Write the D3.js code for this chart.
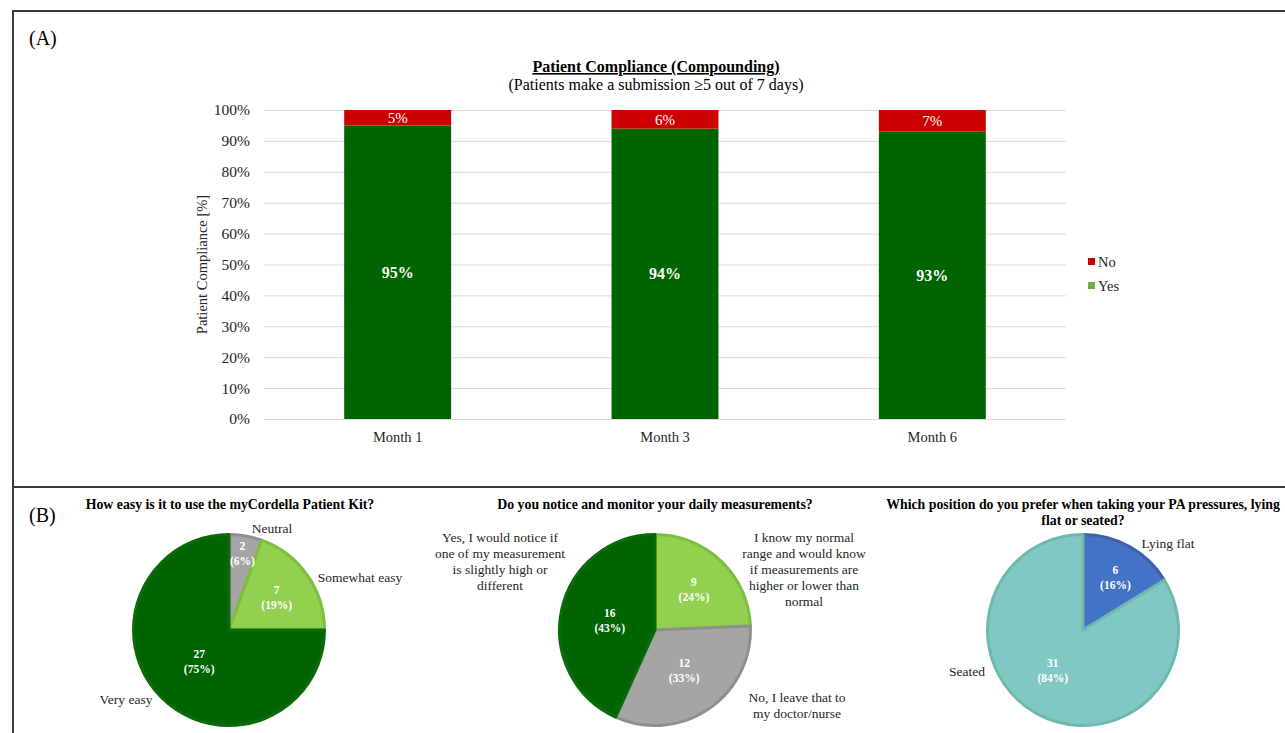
<!DOCTYPE html>
<html><head><meta charset="utf-8">
<script src="https://cdn.jsdelivr.net/npm/d3@7"></script>
<style>html,body{margin:0;padding:0;background:#fff;}svg{display:block;font-family:"Liberation Serif","Times New Roman",serif;}</style>
</head><body>
<svg id="c" width="1285" height="733"></svg>
<script>
// ---- Data ----
const months = ["Month 1", "Month 3", "Month 6"];
const yesValues = [95, 94, 93];
const noValues = [5, 6, 7];
const yTicks = [0, 10, 20, 30, 40, 50, 60, 70, 80, 90, 100];

const easeLabels = ["Neutral", "Somewhat easy", "Very easy"];
const easeValues = [2, 7, 27];
const easePct = ["6%", "19%", "75%"];

const monitorLabels = [["I know my normal", "range and would know", "if measurements are", "higher or lower than", "normal"],
  ["No, I leave that to", "my doctor/nurse"],
  ["Yes, I would notice if", "one of my measurement", "is slightly high or", "different"]];
const monitorValues = [9, 12, 16];
const monitorPct = ["24%", "33%", "43%"];

const positionLabels = ["Lying flat", "Seated"];
const positionValues = [6, 31];
const positionPct = ["16%", "84%"];

const svg = d3.select("#c");
const ink = "#262626";

// ---- Frame ----
svg.append("path").attr("d", "M13,733 L13,11 L1285,11").attr("fill", "none").attr("stroke", "#3a3a3a").attr("stroke-width", 2);
svg.append("line").attr("x1", 13).attr("x2", 1285).attr("y1", 487).attr("y2", 487).attr("stroke", "#3a3a3a").attr("stroke-width", 2);
svg.append("text").attr("x", 29).attr("y", 45).attr("font-size", 20).attr("fill", "#000").text("(A)");
svg.append("text").attr("x", 29).attr("y", 522).attr("font-size", 20).attr("fill", "#000").text("(B)");

// ---- Bar chart ----
const plot = {left: 264, right: 1066, top: 110, bottom: 419};
const x = d3.scaleBand().domain(months).range([plot.left, plot.right]).padding(0);
const y = d3.scaleLinear().domain([0, 100]).range([plot.bottom, plot.top]);
const barW = x.bandwidth() * 0.4;

svg.append("text").attr("x", 656).attr("y", 72).attr("text-anchor", "middle").attr("font-size", 16)
  .attr("font-weight", "bold").attr("text-decoration", "underline").attr("fill", "#000").text("Patient Compliance (Compounding)");
svg.append("text").attr("x", 656).attr("y", 90).attr("text-anchor", "middle").attr("font-size", 16)
  .attr("fill", "#000").text("(Patients make a submission \u22655 out of 7 days)");

const yAxis = d3.axisLeft(y).tickValues(yTicks).tickFormat(d => d + "%").tickSize(-(plot.right - plot.left)).tickPadding(14);
const gy = svg.append("g").attr("transform", `translate(${plot.left},0)`).call(yAxis);
gy.select(".domain").remove();
gy.selectAll(".tick line").attr("stroke", "#d9d9d9").attr("stroke-width", 1);
gy.selectAll(".tick text").attr("font-size", 15.5).attr("fill", ink).attr("font-family", "Liberation Serif");

const xAxis = d3.axisBottom(x).tickSize(0).tickPadding(13);
const gx = svg.append("g").attr("transform", `translate(0,${plot.bottom})`).call(xAxis);
gx.select(".domain").remove();
gx.selectAll(".tick text").attr("font-size", 14.5).attr("fill", ink).attr("font-family", "Liberation Serif");

svg.append("text").attr("transform", `translate(207,${(plot.top + plot.bottom) / 2}) rotate(-90)`)
  .attr("text-anchor", "middle").attr("font-size", 14.5).attr("fill", ink).text("Patient Compliance [%]");

months.forEach((m, i) => {
  const cx = x(m) + x.bandwidth() / 2;
  svg.append("rect").attr("x", cx - barW / 2).attr("width", barW)
    .attr("y", y(yesValues[i])).attr("height", y(0) - y(yesValues[i])).attr("fill", "#006400");
  svg.append("rect").attr("x", cx - barW / 2).attr("width", barW)
    .attr("y", y(yesValues[i] + noValues[i])).attr("height", y(yesValues[i]) - y(yesValues[i] + noValues[i])).attr("fill", "#cc0000");
  svg.append("text").attr("x", cx).attr("y", (y(yesValues[i]) + y(0)) / 2).attr("dy", "0.35em")
    .attr("text-anchor", "middle").attr("font-size", 16).attr("font-weight", "bold").attr("fill", "#fff").text(yesValues[i] + "%");
  svg.append("text").attr("x", cx).attr("y", (y(yesValues[i]) + y(yesValues[i] + noValues[i])) / 2).attr("dy", "0.35em")
    .attr("text-anchor", "middle").attr("font-size", 15).attr("fill", "#fff").text(noValues[i] + "%");
});

// legend
const legend = [{t: "No", c: "#cc0000", y: 262}, {t: "Yes", c: "#70ad47", y: 286}];
legend.forEach(l => {
  svg.append("rect").attr("x", 1088).attr("y", l.y - 4).attr("width", 7).attr("height", 7).attr("fill", l.c);
  svg.append("text").attr("x", 1098).attr("y", l.y).attr("dy", "0.35em").attr("font-size", 14.5).attr("fill", ink).text(l.t);
});

// ---- Pies ----
function drawPie(opts) {
  const {cx, cy, r, values, colors, strokes, pct, inLabelPos, nudge, outLabels, title} = opts;
  const g = svg.append("g").attr("transform", `translate(${cx},${cy})`);
  const pie = d3.pie().sort(null).value(d => d)(values);
  const arc = d3.arc().innerRadius(0).outerRadius(r - 1.5);
  g.selectAll("path").data(pie).join("path").attr("d", arc)
    .attr("fill", (d, i) => colors[i]).attr("stroke", (d, i) => strokes[i]).attr("stroke-width", 3).attr("stroke-linejoin", "round");
  pie.forEach((d, i) => {
    const c = d3.arc().innerRadius(r * inLabelPos[i]).outerRadius(r * inLabelPos[i]).centroid(d);
    const px = c[0] + nudge[i][0], py = c[1] + nudge[i][1];
    const t = g.append("text").attr("text-anchor", "middle").attr("font-size", 11.5).attr("font-weight", "bold").attr("fill", "#fff");
    t.append("tspan").attr("x", px).attr("y", py - 3).text(values[i]);
    t.append("tspan").attr("x", px).attr("y", py + 12).text("(" + pct[i] + ")");
  });
  outLabels.forEach(o => {
    const t = svg.append("text").attr("text-anchor", o.anchor || "middle").attr("font-size", 13.5).attr("fill", ink);
    o.lines.forEach((ln, k) => t.append("tspan").attr("x", o.x).attr("y", o.y + k * 16).text(ln));
  });
  title.lines.forEach((ln, k) => svg.append("text").attr("x", title.x).attr("y", title.y + k * 16).attr("text-anchor", "middle")
    .attr("font-size", 13.8).attr("font-weight", "bold").attr("fill", "#000").text(ln));
}

drawPie({
  cx: 229, cy: 630, r: 97, values: easeValues,
  colors: ["#a5a5a5", "#92d050", "#006400"], strokes: ["#8f8f8f", "#7dbf3c", "#0b6b0b"],
  pct: easePct, inLabelPos: [0.8, 0.6, 0.45], nudge: [[0, -1], [0, 0], [1, 0]],
  outLabels: [{x: 272, y: 533, lines: [easeLabels[0]]}, {x: 360, y: 582, lines: [easeLabels[1]]}, {x: 126, y: 704, lines: [easeLabels[2]]}],
  title: {x: 230, y: 509, lines: ["How easy is it to use the myCordella Patient Kit?"]}
});

drawPie({
  cx: 655, cy: 630, r: 97, values: monitorValues,
  colors: ["#92d050", "#a5a5a5", "#006400"], strokes: ["#7dbf3c", "#8f8f8f", "#0b6b0b"],
  pct: monitorPct, inLabelPos: [0.55, 0.5, 0.55], nudge: [[2, -2], [2, 0], [7, 1]],
  outLabels: [{x: 804, y: 542, lines: monitorLabels[0]}, {x: 797, y: 702, lines: monitorLabels[1]}, {x: 500, y: 542, lines: monitorLabels[2]}],
  title: {x: 655, y: 509, lines: ["Do you notice and monitor your daily measurements?"]}
});

drawPie({
  cx: 1083, cy: 630, r: 97, values: positionValues,
  colors: ["#4472c4", "#80c8c1"], strokes: ["#3a63ad", "#6fb8b0"],
  pct: positionPct, inLabelPos: [0.6, 0.45], nudge: [[4, -2], [-9, 2]],
  outLabels: [{x: 1168, y: 548, lines: [positionLabels[0]]}, {x: 967, y: 676, lines: [positionLabels[1]]}],
  title: {x: 1083, y: 509, lines: ["Which position do you prefer when taking your PA pressures, lying", "flat or seated?"]}
});
</script>
</body></html>
